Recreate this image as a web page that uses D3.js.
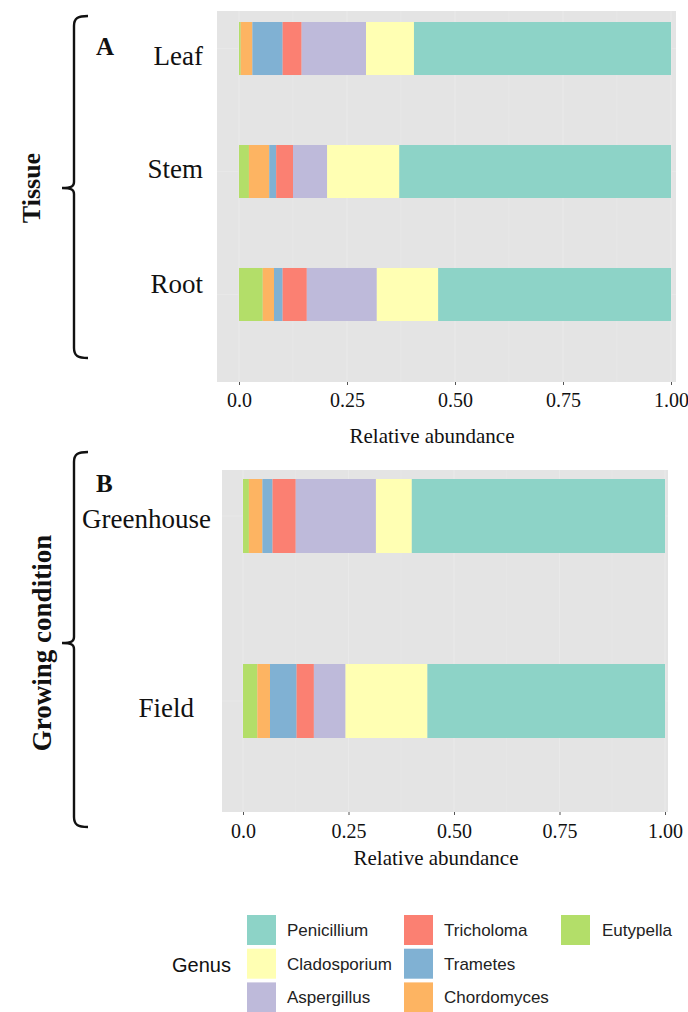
<!DOCTYPE html>
<html lang="en">
<head>
<meta charset="UTF-8" />
<title>Relative abundance by genus</title>
<script src="https://d3js.org/d3.v7.min.js"></script>
<style>
  body { margin: 0; background: #fff; }
</style>
</head>
<body>
<svg id="chart" width="688" height="1012"></svg>
<script>
// genus names, left-to-right stacking order inside each bar
const stackKeys = ["Eutypella", "Chordomyces", "Trametes", "Tricholoma", "Aspergillus", "Cladosporium", "Penicillium"];
const stackColors = ["#b3de69", "#fdb462", "#80b1d3", "#fb8072", "#bebada", "#ffffb3", "#8dd3c7"];

// panel A: tissue
const tissues = ["Leaf", "Stem", "Root"];
const leafShares = [0.004, 0.027, 0.070, 0.044, 0.149, 0.111, 0.595];
const stemShares = [0.023, 0.047, 0.016, 0.039, 0.079, 0.167, 0.629];
const rootShares = [0.055, 0.026, 0.020, 0.056, 0.162, 0.142, 0.539];

// panel B: growing condition
const conditions = ["Greenhouse", "Field"];
const greenhouseShares = [0.014, 0.032, 0.024, 0.055, 0.190, 0.085, 0.600];
const fieldShares = [0.034, 0.030, 0.063, 0.041, 0.075, 0.194, 0.563];

const xTicks = [0, 0.25, 0.5, 0.75, 1];
const xTickLabels = ["0.0", "0.25", "0.50", "0.75", "1.00"];

// legend layout (column-major, like ggplot)
const legendColumns = [
  ["Penicillium", "Cladosporium", "Aspergillus"],
  ["Tricholoma", "Trametes", "Chordomyces"],
  ["Eutypella"]
];

const SERIF = '"Liberation Serif", "Times New Roman", serif';
const SANS = '"Liberation Sans", Arial, sans-serif';

const svg = d3.select("#chart");
const color = d3.scaleOrdinal().domain(stackKeys).range(stackColors);

function toRows(names, shareLists) {
  return names.map((n, i) => {
    const row = { name: n };
    stackKeys.forEach((k, j) => row[k] = shareLists[i][j]);
    return row;
  });
}

function drawBrace(y0, y1, mid, label, size) {
  const x = 74, hx = 88, tx = 62;
  const p = d3.path();
  p.moveTo(hx, y0);
  p.bezierCurveTo(78, y0, x, y0 + 2, x, y0 + 10);
  p.lineTo(x, mid - 6);
  p.bezierCurveTo(x, mid - 2, 72, mid, tx, mid);
  p.moveTo(tx, mid);
  p.bezierCurveTo(72, mid, x, mid + 2, x, mid + 6);
  p.lineTo(x, y1 - 10);
  p.bezierCurveTo(x, y1 - 2, 78, y1, hx, y1);
  svg.append("path").attr("d", p.toString())
    .attr("fill", "none").attr("stroke", "#111").attr("stroke-width", 2.4);

  svg.append("text")
    .attr("transform", `translate(${size.x},${mid}) rotate(-90)`)
    .attr("text-anchor", "middle")
    .style("font-family", SERIF)
    .attr("font-weight", "bold")
    .attr("font-size", size.fs)
    .attr("fill", "#111")
    .text(label);
}

function drawPanel(cfg) {
  const rows = toRows(cfg.names, cfg.shares);
  const series = d3.stack().keys(stackKeys)(rows);

  const x = d3.scaleLinear().domain([0, 1]).range(cfg.xRange);
  const y = d3.scaleBand().domain(cfg.names).range(cfg.yRange).paddingInner(cfg.pad).paddingOuter(0);

  const g = svg.append("g");

  // panel background
  g.append("rect")
    .attr("x", cfg.bg[0]).attr("y", cfg.bg[1])
    .attr("width", cfg.bg[2] - cfg.bg[0]).attr("height", cfg.bg[3] - cfg.bg[1])
    .attr("fill", "#e4e4e4");

  // faint gridlines
  const minor = d3.range(0.125, 1, 0.25);
  g.selectAll(".minor").data(minor).join("line")
    .attr("x1", d => x(d)).attr("x2", d => x(d))
    .attr("y1", cfg.bg[1]).attr("y2", cfg.bg[3])
    .attr("stroke", "#e7e7e7").attr("stroke-width", 0.8);
  g.selectAll(".major").data(xTicks).join("line")
    .attr("x1", d => x(d)).attr("x2", d => x(d))
    .attr("y1", cfg.bg[1]).attr("y2", cfg.bg[3])
    .attr("stroke", "#e9e9e9").attr("stroke-width", 1.2);
  g.selectAll(".hgrid").data(cfg.names).join("line")
    .attr("x1", cfg.bg[0]).attr("x2", cfg.bg[2])
    .attr("y1", d => y(d) + y.bandwidth() / 2).attr("y2", d => y(d) + y.bandwidth() / 2)
    .attr("stroke", "#e8e8e8").attr("stroke-width", 1);

  // stacked bars
  g.selectAll(".layer").data(series).join("g")
    .attr("fill", d => color(d.key))
    .selectAll("rect").data(d => d).join("rect")
    .attr("x", d => x(d[0]))
    .attr("width", d => x(d[1]) - x(d[0]))
    .attr("y", d => y(d.data.name))
    .attr("height", y.bandwidth());

  // x axis
  const axis = g.append("g").attr("transform", `translate(0,${cfg.bg[3]})`)
    .call(d3.axisBottom(x).tickValues(xTicks)
      .tickFormat((d, i) => xTickLabels[i]).tickSize(3).tickPadding(8));
  axis.attr("font-family", null).attr("font-size", null);
  axis.select(".domain").remove();
  axis.selectAll(".tick line").attr("stroke", "#555");
  axis.selectAll(".tick text")
    .style("font-family", SERIF).attr("font-size", 20).attr("fill", "#111")
    .attr("dy", null).attr("y", cfg.tickBaseline - cfg.bg[3]);

  g.append("text")
    .attr("x", cfg.titleX).attr("y", cfg.titleY)
    .attr("text-anchor", "middle")
    .style("font-family", SERIF).attr("font-size", 21).attr("fill", "#111")
    .text("Relative abundance");

  // category labels
  cfg.names.forEach((n, i) => {
    g.append("text")
      .attr("x", cfg.labelX[i]).attr("y", cfg.labelY[i])
      .attr("text-anchor", "end")
      .style("font-family", SERIF).attr("font-size", 27).attr("fill", "#111")
      .text(n);
  });

  // panel letter
  g.append("text")
    .attr("x", cfg.letterPos[0]).attr("y", cfg.letterPos[1])
    .style("font-family", SERIF)
    .attr("font-weight", "bold").attr("font-size", 25).attr("fill", "#111")
    .text(cfg.letter);
}

drawPanel({
  names: tissues,
  shares: [leafShares, stemShares, rootShares],
  bg: [217, 11, 676, 382],
  xRange: [239, 671],
  yRange: [22, 321],
  pad: 0.569,
  tickBaseline: 407,
  titleX: 432, titleY: 443,
  labelX: [203, 203, 203],
  labelY: [65, 178, 293],
  letter: "A", letterPos: [96, 55]
});

drawPanel({
  names: conditions,
  shares: [greenhouseShares, fieldShares],
  bg: [222, 470, 668, 812],
  xRange: [243, 665],
  yRange: [479, 738],
  pad: 0.6,
  tickBaseline: 838,
  titleX: 436, titleY: 865,
  labelX: [211, 194],
  labelY: [528, 717],
  letter: "B", letterPos: [96, 492]
});

drawBrace(16, 358, 188, "Tissue", { x: 40, fs: 26 });
drawBrace(452, 827, 643, "Growing condition", { x: 51, fs: 27 });

// legend
const legend = svg.append("g").style("font-family", SANS);
legend.append("text").attr("x", 172).attr("y", 972)
  .attr("font-size", 20).attr("fill", "#111").text("Genus");
const colX = [247, 404, 561];
const textX = [287, 444, 602];
legendColumns.forEach((col, ci) => {
  col.forEach((name, ri) => {
    const top = 915 + ri * 33.7;
    legend.append("rect")
      .attr("x", colX[ci]).attr("y", top)
      .attr("width", 29).attr("height", 30)
      .attr("fill", color(name));
    legend.append("text")
      .attr("x", textX[ci]).attr("y", top + 21)
      .attr("font-size", 17).attr("fill", "#222")
      .text(name);
  });
});
</script>
</body>
</html>
